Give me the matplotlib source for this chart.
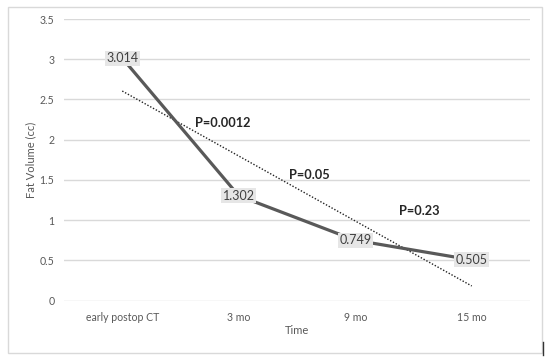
import matplotlib
matplotlib.use("Agg")
import matplotlib.pyplot as plt
import numpy as np
from matplotlib.patches import Rectangle
from matplotlib.lines import Line2D

categories = ["early postop CT", "3 mo", "9 mo", "15 mo"]
values = [3.014, 1.302, 0.749, 0.505]
value_labels = ["3.014", "1.302", "0.749", "0.505"]
p_texts = ["P=0.0012", "P=0.05", "P=0.23"]
p_x = [0.865, 1.61, 2.547]
p_y = [2.21, 1.563, 1.115]
yticks = [0, 0.5, 1, 1.5, 2, 2.5, 3, 3.5]
ytick_labels = ["0", "0.5", "1", "1.5", "2", "2.5", "3", "3.5"]

plt.rcParams['font.family'] = ['Lato', 'DejaVu Sans']

W, H = 550, 361
fig = plt.figure(figsize=(W/100, H/100), dpi=100)
ax = fig.add_axes([64/W, 1-300.5/H, (530-64)/W, (300.5-19)/H])

x = np.arange(len(categories))
ax.plot(x, values, color="#595959", lw=2.3, zorder=3, solid_capstyle="butt")

# linear trendline
slope, intercept = np.polyfit(x, values, 1)
ax.plot(x, slope*x + intercept, color="#222222", lw=1.0, ls=(0, (1, 1.3)), zorder=2)

for xi, v, lab in zip(x, values, value_labels):
    ax.text(xi, v, lab, ha="center", va="center", fontsize=9, color="#404040", zorder=5,
            bbox=dict(boxstyle="square,pad=0.12", fc="#e6e6e6", ec="none"))

for t, px, py in zip(p_texts, p_x, p_y):
    ax.text(px, py, t, ha="center", va="center", fontsize=9.2, fontweight="bold", color="#262626", zorder=5)

ax.set_xlim(-0.5, 3.5)
ax.set_ylim(0, 3.5)
ax.set_yticks(yticks)
ax.set_yticklabels(ytick_labels)
ax.set_xticks(x)
ax.set_xticklabels(categories)
ax.tick_params(axis="both", length=0, labelsize=7.6, labelcolor="#595959")
ax.tick_params(axis="y", pad=7)
ax.tick_params(axis="x", pad=8)
ax.grid(axis="y", color="#d9d9d9", lw=1.0)
ax.set_axisbelow(True)
for s in ax.spines.values():
    s.set_visible(False)

fig.text(31/W, 1-160/H, "Fat Volume (cc)", rotation=90, ha="center", va="center", fontsize=8, color="#595959")
fig.text(297/W, 1-331/H, "Time", ha="center", va="center", fontsize=8, color="#595959")

fig.patches.append(Rectangle((8/W, 1-353/H), (542-8)/W, (353-7)/H, transform=fig.transFigure,
                             fill=False, ec="#d9d9d9", lw=1.0))
fig.lines.append(Line2D([543/W, 543/W], [1-355/H, 1-342/H], transform=fig.transFigure, color="#333333", lw=1.0))

fig.savefig("out.png", dpi=100)
